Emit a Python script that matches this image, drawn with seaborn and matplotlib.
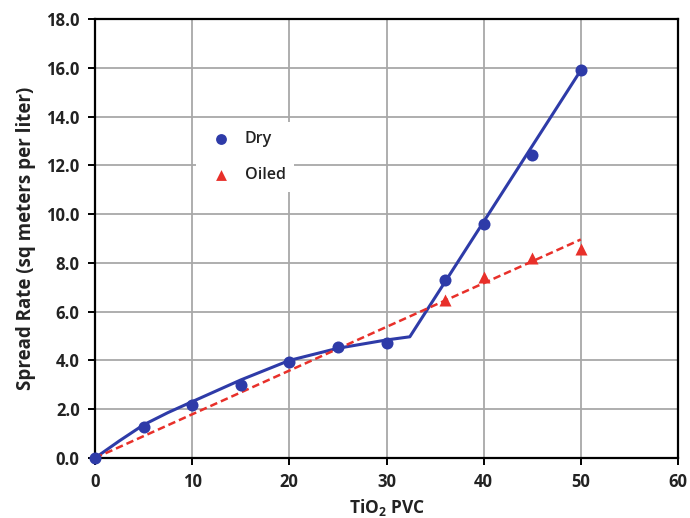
import matplotlib
matplotlib.use("Agg")
import matplotlib.pyplot as plt
import seaborn as sns
import pandas as pd

# Data
dry_x = [0, 5, 10, 15, 20, 25, 30, 36, 40, 45, 50]
dry_y = [0.0, 1.28, 2.17, 3.0, 3.95, 4.56, 4.73, 7.3, 9.6, 12.42, 15.9]
oiled_x = [36, 40, 45, 50]
oiled_y = [6.48, 7.43, 8.22, 8.55]
dry_fit_x = [0, 2.5, 5, 7.5, 10, 15, 20, 25, 30, 32.4, 50]
dry_fit_y = [0.0, 0.7, 1.36, 1.86, 2.31, 3.2, 4.0, 4.5, 4.84, 4.97, 15.9]
oiled_fit_x = [0, 50]
oiled_fit_y = [0.0, 8.96]
x_ticks = [0, 10, 20, 30, 40, 50, 60]
y_ticks = [0, 2, 4, 6, 8, 10, 12, 14, 16, 18]

BLUE = "#2E3BA8"
RED = "#E8302A"
FONT = "Open Sans"

sns.set_theme(style="white")
plt.rcParams['font.family'] = [FONT, 'DejaVu Sans']
plt.rcParams['mathtext.fontset'] = 'custom'
plt.rcParams['mathtext.rm'] = FONT
plt.rcParams['mathtext.bf'] = FONT + ':bold'

fig = plt.figure(figsize=(6.9, 5.18), dpi=100)
ax = fig.add_axes([95/690, 1 - 458/518, (678-95)/690, (458-19)/518])

dry_df = pd.DataFrame({"x": dry_x, "y": dry_y})
oil_df = pd.DataFrame({"x": oiled_x, "y": oiled_y})
dfit = pd.DataFrame({"x": dry_fit_x, "y": dry_fit_y})
ofit = pd.DataFrame({"x": oiled_fit_x, "y": oiled_fit_y})

sns.lineplot(data=dfit, x="x", y="y", ax=ax, color=BLUE, lw=2.2, sort=False, estimator=None, zorder=3)
sns.lineplot(data=ofit, x="x", y="y", ax=ax, color=RED, lw=1.8, sort=False, estimator=None,
             linestyle=(0, (3, 1.6)), zorder=3)
sns.scatterplot(data=dry_df, x="x", y="y", ax=ax, color=BLUE, marker="o", s=75,
                edgecolor=BLUE, linewidth=0, label="Dry", zorder=4, clip_on=False)
sns.scatterplot(data=oil_df, x="x", y="y", ax=ax, color=RED, marker="^", s=75,
                edgecolor=RED, linewidth=0, label="Oiled", zorder=4, clip_on=False)

ax.set_xlim(0, 60)
ax.set_ylim(0, 18)
ax.set_xticks(x_ticks)
ax.set_yticks(y_ticks)
ax.set_xticklabels([str(t) for t in x_ticks], fontweight="bold", fontsize=12)
ax.set_yticklabels([f"{t:.1f}" for t in y_ticks], fontweight="bold", fontsize=12)
ax.grid(True, color="#A8A8A8", lw=1.3)
ax.set_axisbelow(True)
for s in ax.spines.values():
    s.set_visible(True)
    s.set_color("black")
    s.set_linewidth(1.6)
ax.tick_params(axis="both", which="both", direction="out", length=5, width=1.4,
               color="black", bottom=True, left=True, pad=6, labelcolor="#222222")

ax.set_xlabel(r"TiO$_\mathbf{2}$ PVC", fontweight="bold", fontsize=12.5, labelpad=4, color="#222222")
ax.set_ylabel("Spread Rate (sq meters per liter)", fontweight="bold", fontsize=13.5,
              labelpad=7, color="#222222")

leg = ax.legend(loc="upper left", bbox_to_anchor=((188-95)/583, 1 - (114-19)/439),
                frameon=True, fancybox=False, framealpha=1, edgecolor="white",
                prop={"size": 11.5, "weight": "semibold"}, labelspacing=1.25,
                handletextpad=0.5, borderpad=0.55, markerscale=0.9)
for t in leg.get_texts():
    t.set_color("#222222")
leg.get_frame().set_linewidth(0)

fig.savefig("out.png", dpi=100)
